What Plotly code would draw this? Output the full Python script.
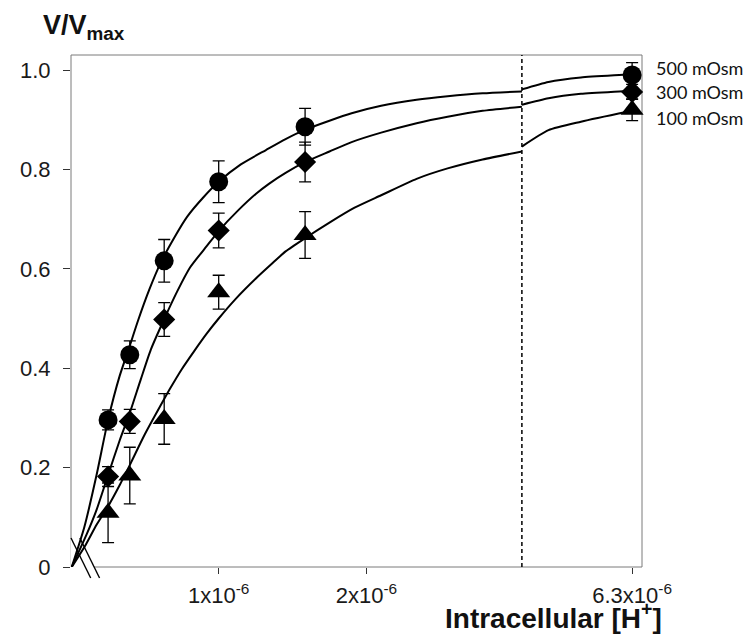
import plotly.graph_objects as go

# ---------------- data ----------------
H_CONC = [2.51e-7, 3.98e-7, 6.31e-7, 1.0e-6, 1.585e-6, 6.31e-6]

V_500 = [0.296, 0.427, 0.616, 0.775, 0.886, 0.990]
E_500 = [0.020, 0.028, 0.043, 0.042, 0.037, 0.025]
V_300 = [0.182, 0.293, 0.498, 0.677, 0.815, 0.956]
E_300 = [0.020, 0.024, 0.034, 0.035, 0.040, 0.015]
V_100 = [0.109, 0.184, 0.298, 0.553, 0.668, 0.920]
E_100 = [0.060, 0.057, 0.051, 0.034, 0.047, 0.022]

# fitted curves, x in units of 1e-6 M
CX_500 = [0.005, 0.09, 0.173, 0.251, 0.33, 0.398, 0.453, 0.53, 0.607, 0.7, 0.787, 0.9, 1.0,
          1.15, 1.32, 1.453, 1.587, 1.75, 1.9, 2.1, 2.34, 2.55, 2.787, 3.053,
          3.41, 4.11, 4.964, 6.18, 6.31]
CY_500 = [0.0, 0.08, 0.185, 0.296, 0.385, 0.445, 0.495, 0.558, 0.612, 0.663, 0.705, 0.745, 0.775,
          0.81, 0.839, 0.861, 0.88, 0.898, 0.913, 0.928, 0.94, 0.947, 0.953, 0.957,
          0.961, 0.976, 0.985, 0.991, 0.992]
CX_300 = [0.005, 0.105, 0.173, 0.251, 0.33, 0.398, 0.473, 0.54, 0.633, 0.72, 0.807, 0.92, 1.0,
          1.13, 1.253, 1.34, 1.453, 1.587, 1.75, 1.9, 2.1, 2.34, 2.55, 2.787, 3.053,
          3.41, 4.11, 4.964, 6.18, 6.31]
CY_300 = [0.0, 0.065, 0.115, 0.185, 0.255, 0.31, 0.378, 0.437, 0.5, 0.555, 0.603, 0.646, 0.676,
          0.717, 0.751, 0.771, 0.793, 0.815, 0.836, 0.855, 0.874, 0.893, 0.906, 0.918, 0.926,
          0.930, 0.943, 0.952, 0.958, 0.959]
CX_100 = [0.005, 0.1, 0.173, 0.251, 0.33, 0.398, 0.5, 0.631, 0.673, 0.75, 0.833, 0.92, 1.0,
          1.12, 1.25, 1.367, 1.453, 1.587, 1.75, 1.92, 2.1, 2.34, 2.55, 2.787, 3.053,
          3.41, 4.11, 4.964, 6.18, 6.31]
CY_100 = [0.0, 0.045, 0.085, 0.122, 0.165, 0.205, 0.267, 0.338, 0.36, 0.398, 0.434, 0.47, 0.5,
          0.541, 0.58, 0.612, 0.635, 0.662, 0.693, 0.723, 0.748, 0.781, 0.802, 0.82, 0.836,
          0.846, 0.879, 0.896, 0.916, 0.918]

SERIES = ["500 mOsm", "300 mOsm", "100 mOsm"]
SYMBOLS = ["circle", "diamond", "triangle-up"]
SIZES = [19, 17, 20]

Y_TICKS = [0, 0.2, 0.4, 0.6, 0.8, 1.0]
Y_TICKTEXT = ["0", "0.2", "0.4", "0.6", "0.8", "1.0"]
X_TICKS_LEFT = [1e-6, 2e-6]
X_TICKTEXT_LEFT = ["1x10<sup>-6</sup>", "2x10<sup>-6</sup>"]
X_TICKS_RIGHT = [6.31e-6]
X_TICKTEXT_RIGHT = ["6.3x10<sup>-6</sup>"]

LEFT_RANGE = [0, 3.053e-6]
RIGHT_RANGE = [3.41e-6, 6.57e-6]
BREAK = 3.2e-6

# ---------------- layout geometry ----------------
OFF = 8                      # page body margin of the browser
W, H = 752 - OFF, 636 - OFF
ML, MR, MT, MB = 54, 110, 47, 69
PW, PH = W - ML - MR, H - MT - MB
SPLIT = 458 / PW


def px(xw):
    return (xw - OFF - ML) / PW


def py(yw):
    return (H - MB - (yw - OFF)) / PH


FONT = "Liberation Sans, Arial, sans-serif"

fig = go.Figure()

vals = [V_500, V_300, V_100]
errs = [E_500, E_300, E_100]
cxs = [CX_500, CX_300, CX_100]
cys = [CY_500, CY_300, CY_100]

for i in range(3):
    cx = [v * 1e-6 for v in cxs[i]]
    cy = cys[i]
    lx = [a for a in cx if a < BREAK]
    ly = [b for a, b in zip(cx, cy) if a < BREAK]
    rx = [a for a in cx if a >= BREAK]
    ry = [b for a, b in zip(cx, cy) if a >= BREAK]
    for xs, ys, xa in [(lx, ly, "x"), (rx, ry, "x2")]:
        fig.add_trace(go.Scatter(x=xs, y=ys, xaxis=xa, yaxis="y", mode="lines",
                                 line=dict(color="black", width=2, shape="spline", smoothing=0.6),
                                 hoverinfo="skip", showlegend=False, cliponaxis=False))
    for sel, xa in [(lambda a: a < BREAK, "x"), (lambda a: a >= BREAK, "x2")]:
        idx = [k for k, a in enumerate(H_CONC) if sel(a)]
        fig.add_trace(go.Scatter(
            x=[H_CONC[k] for k in idx], y=[vals[i][k] for k in idx],
            xaxis=xa, yaxis="y", mode="markers", name=SERIES[i],
            marker=dict(symbol=SYMBOLS[i], size=SIZES[i], color="black",
                        line=dict(width=0)),
            error_y=dict(type="data", array=[errs[i][k] for k in idx], visible=True,
                         color="black", thickness=1.3, width=6),
            showlegend=False, cliponaxis=False))

shapes = [
    # frame
    dict(type="rect", xref="paper", yref="paper", x0=0, y0=0, x1=1, y1=1,
         line=dict(color="#7a7a7a", width=1), layer="below"),
    # axis break separator (dashed)
    dict(type="line", xref="paper", yref="paper", x0=SPLIT, x1=SPLIT, y0=0, y1=1,
         line=dict(color="black", width=1.5, dash="4px,3px"), layer="below"),
    # left axis break mark (white gap)
    dict(type="path", xref="paper", yref="paper",
         path=f"M{px(61.5)},{py(538.5)} L{px(71)},{py(538)} L{px(91)},{py(578)} "
              f"L{px(82)},{py(578)} L{px(61.5)},{py(567.5)} Z",
         fillcolor="white", line=dict(width=0), layer="below"),
    dict(type="line", xref="paper", yref="paper", x0=px(62), y0=py(538), x1=px(82), y1=py(578),
         line=dict(color="black", width=1.4)),
    dict(type="line", xref="paper", yref="paper", x0=px(71), y0=py(538), x1=px(91), y1=py(578),
         line=dict(color="black", width=1.4)),
]

annotations = [
    dict(text="<b>V/V<sub>max</sub></b>", xref="paper", yref="paper",
         x=px(32), y=py(8), xanchor="left", yanchor="top", showarrow=False,
         font=dict(family=FONT, size=27, color="#111")),
    dict(text="<b>Intracellular [H<sup>+</sup>]</b>", xref="paper", yref="paper",
         x=px(664), y=py(636), xanchor="right", yanchor="bottom", showarrow=False,
         font=dict(family=FONT, size=28, color="#111")),
]
for name, yc in zip(SERIES, [67.5, 92, 118]):
    annotations.append(dict(text=name, xref="paper", yref="paper", x=px(654), y=py(yc),
                            xanchor="left", yanchor="middle", showarrow=False,
                            font=dict(family="Lato, Open Sans, sans-serif", size=18, color="#111")))

axis_common = dict(showgrid=False, zeroline=False, showline=False, ticks="outside",
                   tickcolor="#333", tickwidth=1.3, ticklen=6,
                   tickfont=dict(family=FONT, size=22, color="#1a1a1a"))

fig.update_layout(
    width=W, height=H, autosize=False,
    margin=dict(l=ML, r=MR, t=MT, b=MB, pad=0),
    paper_bgcolor="white", plot_bgcolor="rgba(0,0,0,0)",
    showlegend=False,
    xaxis=dict(domain=[0, SPLIT], range=LEFT_RANGE, tickvals=X_TICKS_LEFT,
               ticktext=X_TICKTEXT_LEFT, anchor="y", ticklabelstandoff=3, **axis_common),
    xaxis2=dict(domain=[SPLIT, 1], range=RIGHT_RANGE, tickvals=X_TICKS_RIGHT,
                ticktext=X_TICKTEXT_RIGHT, anchor="y", ticklabelstandoff=3, **axis_common),
    yaxis=dict(domain=[0, 1], range=[0, 1.0302], tickvals=Y_TICKS, ticktext=Y_TICKTEXT,
               anchor="x", ticklabelstandoff=8, **{**axis_common, "ticklen": 7}),
    shapes=shapes,
    annotations=annotations,
)

fig.write_html("out.html")
